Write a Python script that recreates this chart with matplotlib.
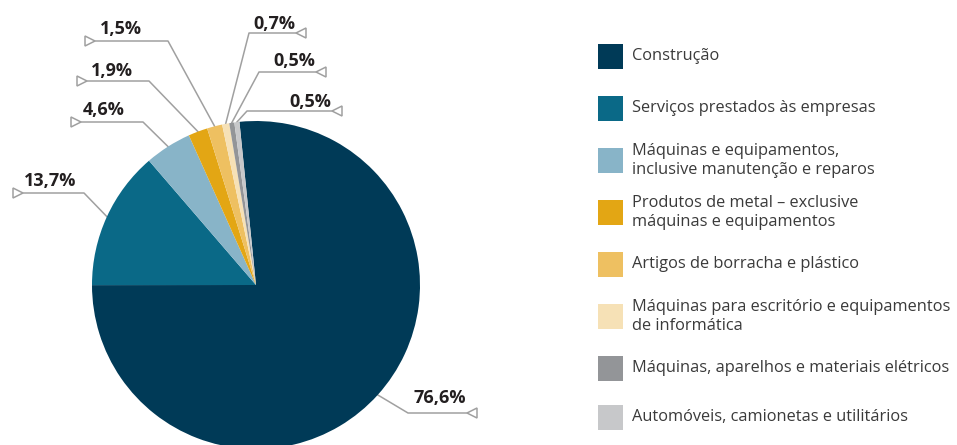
import matplotlib
matplotlib.use("Agg")
import matplotlib.pyplot as plt
from matplotlib import font_manager
from matplotlib.patches import Rectangle
import numpy as np

# data
categories = [
    "Construção",
    "Serviços prestados às empresas",
    "Máquinas e equipamentos,\ninclusive manutenção e reparos",
    "Produtos de metal – exclusive\nmáquinas e equipamentos",
    "Artigos de borracha e plástico",
    "Máquinas para escritório e equipamentos\nde informática",
    "Máquinas, aparelhos e materiais elétricos",
    "Automóveis, camionetas e utilitários",
]
values = [76.6, 13.7, 4.6, 1.9, 1.5, 0.7, 0.5, 0.5]
colors = ["#003a57", "#0a6987", "#88b4c8", "#e3a614",
          "#eec061", "#f6e1b6", "#939598", "#c7c8ca"]

W, H = 957, 445

names = {f.name for f in font_manager.fontManager.ttflist}
base = "Liberation Sans Narrow" if "Liberation Sans Narrow" in names else "Open Sans"
plt.rcParams["font.family"] = [base, "DejaVu Sans"]

fig = plt.figure(figsize=(W / 100, H / 100), dpi=100)
ax = fig.add_axes([0, 0, 1, 1])

cx, cy, r = 256, H - 285, 164
wedges, _ = ax.pie(values, colors=colors, startangle=95.8, counterclock=False,
                   center=(cx, cy), radius=r,
                   wedgeprops=dict(linewidth=0, zorder=2))
ax.set_xlim(0, W)
ax.set_ylim(0, H)
ax.set_aspect("equal")
ax.axis("off")

# label layout in pixels from the top: elbow x, elbow y, end x, text x, baseline y
layout = [
    (408, 413, 472, 413, 403),
    (84, 193, 18, 24, 186),
    (143, 122, 76, 83, 115),
    (149, 81, 82, 91, 76),
    (168, 41, 90, 100, 34),
    (249, 33, 301, 253, 29),
    (259, 72, 321, 273, 66),
    (247, 111, 337, 289, 107),
]

line_col = "#a0a0a0"
for w, v, (ex, ey, endx, tx, ty) in zip(wedges, values, layout):
    mid = np.deg2rad((w.theta1 + w.theta2) / 2)
    px, py = cx + r * np.cos(mid), cy + r * np.sin(mid)
    ey2 = H - ey
    ax.plot([px, ex, endx], [py, ey2, ey2], color=line_col, lw=1.1, zorder=1)
    marker = ">" if endx < ex else "<"
    ax.plot([endx], [ey2], marker=marker, ms=7, mfc="white", mec=line_col,
            mew=1.1, zorder=3, ls="none")
    label = f"{v:.1f}%".replace(".", ",")
    ax.text(tx, H - ty, label, ha="left", va="baseline", fontsize=13,
            fontweight="bold", color="#231f20")

# legend
leg_y = [56, 108, 160.5, 212.5, 264, 316.5, 368, 417]
for name, col, y in zip(categories, colors, leg_y):
    ax.add_patch(Rectangle((598, H - y - 12.5), 25, 25, facecolor=col,
                           edgecolor="none", zorder=2))
    ax.text(632, H - y, name, ha="left", va="center", fontsize=11.8,
            color="#3a3a3a", linespacing=1.3)

fig.savefig("out.png", dpi=100)
